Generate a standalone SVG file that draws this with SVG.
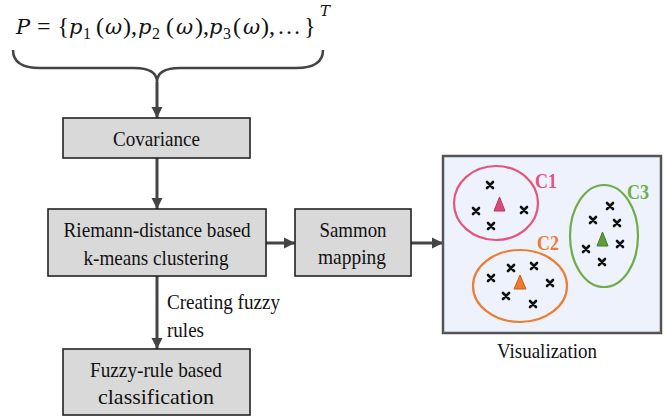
<svg xmlns="http://www.w3.org/2000/svg" width="664" height="416" viewBox="0 0 664 416">
  <defs>
    <marker id="arrowhead" markerUnits="userSpaceOnUse" markerWidth="12" markerHeight="12" refX="11" refY="6" orient="auto">
      <path d="M0,0.5 L11,6 L0,11.5 z" fill="#444"/>
    </marker>
    <style>
      .box { fill: #d9d9d9; stroke: #222; stroke-width: 1.6; }
      .lbl { font-family: 'Liberation Serif', 'DejaVu Serif', serif; font-size: 21px; fill: #111; text-anchor: middle; }
      .note { font-family: 'Liberation Serif', 'DejaVu Serif', serif; font-size: 21px; fill: #111; }
      .math { font-family: 'Liberation Serif', 'DejaVu Serif', serif; font-size: 24px; fill: #111; }
      .var { font-family: 'DejaVu Serif', 'Liberation Serif', serif; font-style: italic; font-size: 21px; }
      .sub { font-size: 16px; }
      .sup { font-family: 'DejaVu Serif', 'Liberation Serif', serif; font-size: 15px; font-style: italic; }
      .link { fill: none; stroke: #444; stroke-width: 3; marker-end: url(#arrowhead); }
      .brace { fill: none; stroke: #444; stroke-width: 2.5; }
      .panel { fill: #edf2fc; stroke: #555; stroke-width: 2.5; }
      .pt { stroke: #111; stroke-width: 2.6; stroke-linecap: round; }
      .ctag { font-family: 'Liberation Serif', 'DejaVu Serif', serif; font-size: 21px; font-weight: bold; }
    </style>
  </defs>

  <!-- feature set expression -->
  <g id="feature-set">
    <text class="math" y="34"><tspan class="var" x="16">P</tspan><tspan x="37">=</tspan><tspan x="57.5">{</tspan><tspan class="var" x="69">p</tspan><tspan class="sub" x="83" y="39">1</tspan><tspan x="96" y="34">(</tspan><tspan class="var" x="105">ω</tspan><tspan x="123">),</tspan><tspan class="var" x="138">p</tspan><tspan class="sub" x="152" y="39">2</tspan><tspan x="166" y="34">(</tspan><tspan class="var" x="176">ω</tspan><tspan x="195">),</tspan><tspan class="var" x="209">p</tspan><tspan class="sub" x="223" y="39">3</tspan><tspan x="233" y="34">(</tspan><tspan class="var" x="243">ω</tspan><tspan x="261">),</tspan><tspan x="277">…</tspan><tspan x="304">}</tspan><tspan class="sup" x="320" y="16">T</tspan></text>
    <path class="brace" d="M13,50 C13,62 22,68 40,68 L134,68 C150,68 157,73 157,82 C157,73 164,68 180,68 L296,68 C314,68 323,62 323,50"/>
  </g>

  <!-- connectors -->
  <g id="connectors">
    <line class="link" x1="157" y1="82" x2="157" y2="118"/>
    <line class="link" x1="157" y1="158" x2="157" y2="209"/>
    <line class="link" x1="157" y1="276" x2="157" y2="349"/>
    <line class="link" x1="266" y1="243" x2="295" y2="243"/>
    <line class="link" x1="411" y1="243" x2="443" y2="243"/>
    <text class="note" x="167" y="309" textLength="113" lengthAdjust="spacingAndGlyphs">Creating fuzzy</text>
    <text class="note" x="167" y="337" textLength="37" lengthAdjust="spacingAndGlyphs">rules</text>
  </g>

  <g id="covariance">
    <rect class="box" x="63" y="118" width="187" height="40"/>
    <text class="lbl" x="156.5" y="146" textLength="87" lengthAdjust="spacingAndGlyphs">Covariance</text>
  </g>

  <g id="riemann-kmeans">
    <rect class="box" x="48" y="209" width="218" height="67"/>
    <text class="lbl" x="157" y="237" textLength="187" lengthAdjust="spacingAndGlyphs">Riemann-distance based</text>
    <text class="lbl" x="156" y="265" textLength="145" lengthAdjust="spacingAndGlyphs">k-means clustering</text>
  </g>

  <g id="sammon">
    <rect class="box" x="295" y="209" width="116" height="67"/>
    <text class="lbl" x="353" y="237" textLength="67" lengthAdjust="spacingAndGlyphs">Sammon</text>
    <text class="lbl" x="352" y="264" textLength="68" lengthAdjust="spacingAndGlyphs">mapping</text>
  </g>

  <g id="fuzzy-classification">
    <rect class="box" x="63" y="349" width="187" height="66"/>
    <text class="lbl" x="156" y="377" textLength="132" lengthAdjust="spacingAndGlyphs">Fuzzy-rule based</text>
    <text class="lbl" x="156" y="404" textLength="116" lengthAdjust="spacingAndGlyphs">classification</text>
  </g>

  <g id="visualization">
    <rect class="panel" x="443" y="156" width="218" height="177"/>
    <!-- cluster C1 -->
    <ellipse cx="496" cy="203" rx="42" ry="37" fill="none" stroke="#e3557f" stroke-width="2.2"/>
    <polygon points="494,211 505,211 499.5,197" fill="#d94a7a" stroke="#b8365f" stroke-width="1"/>
    <text class="ctag" x="535" y="188" fill="#e3557f" textLength="22" lengthAdjust="spacingAndGlyphs">C1</text>
    <!-- cluster C2 -->
    <ellipse cx="520" cy="286" rx="47" ry="36" fill="none" stroke="#ee7d30" stroke-width="2.2"/>
    <polygon points="514,289 526,289 520,275" fill="#ed7a2c" stroke="#c45f18" stroke-width="1"/>
    <text class="ctag" x="537" y="250" fill="#ee7d30" textLength="22" lengthAdjust="spacingAndGlyphs">C2</text>
    <!-- cluster C3 -->
    <ellipse cx="604" cy="236" rx="34" ry="51" fill="none" stroke="#70ad47" stroke-width="2.2"/>
    <polygon points="597,246 608,246 602.5,232" fill="#5e9e3a" stroke="#467a2a" stroke-width="1"/>
    <text class="ctag" x="627" y="199" fill="#70ad47" textLength="22" lengthAdjust="spacingAndGlyphs">C3</text>
    <!-- sample points -->
    <g class="pt">
      <path d="M487,182 l6,6 m0,-6 l-6,6"/>
      <path d="M473,208 l6,6 m0,-6 l-6,6"/>
      <path d="M521,207 l6,6 m0,-6 l-6,6"/>
      <path d="M488,223 l6,6 m0,-6 l-6,6"/>

      <path d="M488,275 l6,6 m0,-6 l-6,6"/>
      <path d="M508,265 l6,6 m0,-6 l-6,6"/>
      <path d="M531,263 l6,6 m0,-6 l-6,6"/>
      <path d="M547,280 l6,6 m0,-6 l-6,6"/>
      <path d="M503,293 l6,6 m0,-6 l-6,6"/>
      <path d="M530,301 l6,6 m0,-6 l-6,6"/>

      <path d="M607,203 l6,6 m0,-6 l-6,6"/>
      <path d="M590,217 l6,6 m0,-6 l-6,6"/>
      <path d="M614,220 l6,6 m0,-6 l-6,6"/>
      <path d="M617,241 l6,6 m0,-6 l-6,6"/>
      <path d="M583,246 l6,6 m0,-6 l-6,6"/>
      <path d="M599,259 l6,6 m0,-6 l-6,6"/>
    </g>
    <text class="lbl" x="547" y="358" textLength="100" lengthAdjust="spacingAndGlyphs">Visualization</text>
  </g>
</svg>
